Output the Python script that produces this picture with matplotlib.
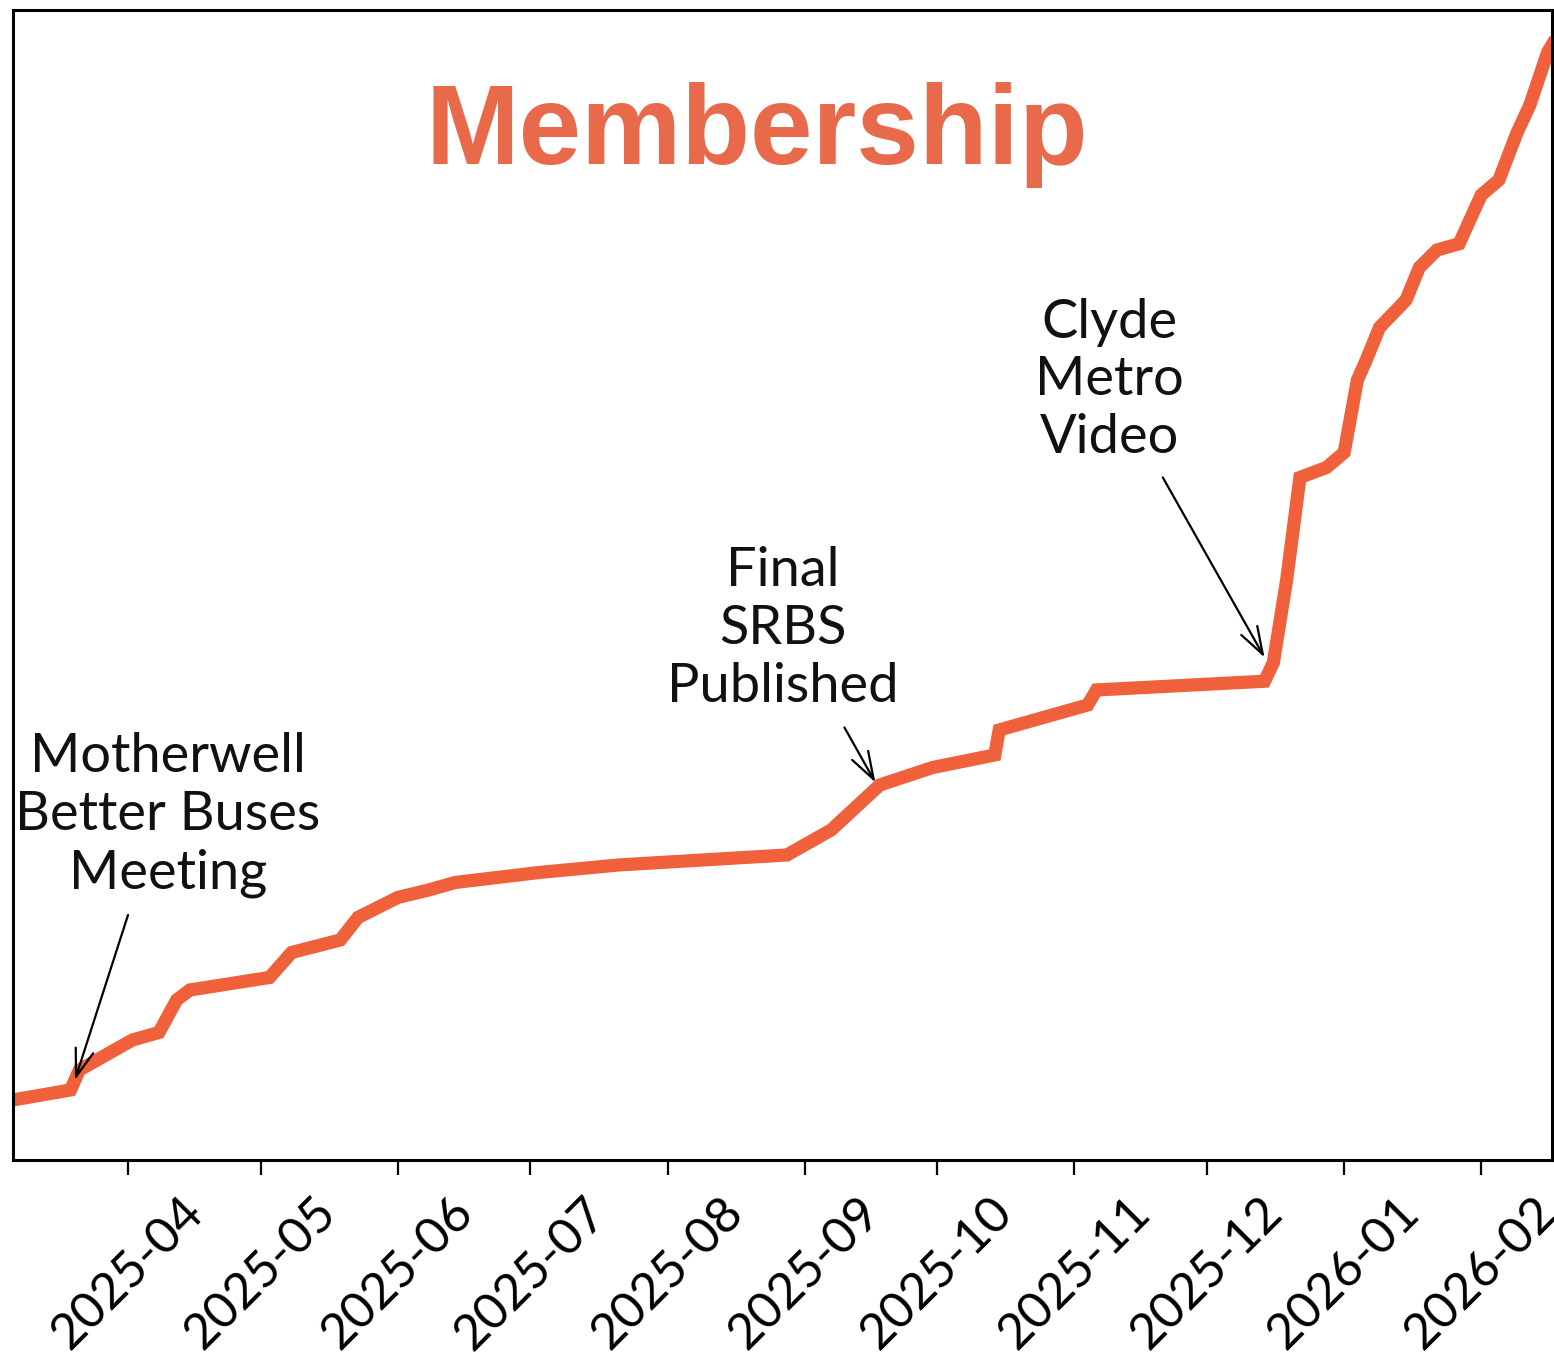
import matplotlib
matplotlib.use("Agg")
import matplotlib.pyplot as plt
import matplotlib.dates as mdates
import numpy as np
import pandas as pd

# Cumulative membership (approximate)
dates = ['2025-03-06', '2025-03-19', '2025-03-21', '2025-04-02', '2025-04-08',
         '2025-04-12', '2025-04-15', '2025-05-03', '2025-05-08', '2025-05-19',
         '2025-05-23', '2025-06-01', '2025-06-08', '2025-06-14', '2025-07-03',
         '2025-07-21', '2025-08-09', '2025-08-28', '2025-09-07', '2025-09-18',
         '2025-09-30', '2025-10-14', '2025-10-15', '2025-11-04', '2025-11-06',
         '2025-12-14', '2025-12-16', '2025-12-19', '2025-12-22', '2025-12-28',
         '2026-01-01', '2026-01-04', '2026-01-06', '2026-01-09', '2026-01-15',
         '2026-01-18', '2026-01-22', '2026-01-27', '2026-02-01', '2026-02-05',
         '2026-02-09', '2026-02-12', '2026-02-16', '2026-02-17']
members = [148, 156, 172, 196, 202, 228, 236, 246, 266, 276,
           294, 310, 316, 322, 330, 336, 340, 344, 364, 400,
           414, 424, 444, 464, 476, 483, 498, 564, 646, 654,
           666, 724, 740, 766, 788, 814, 828, 833, 872, 884,
           921, 944, 986, 992]

# Events marked on the chart
event_labels = ['Motherwell\nBetter Buses\nMeeting', 'Final\nSRBS\nPublished', 'Clyde\nMetro\nVideo']
event_dates = ['2025-03-20', '2025-09-17', '2025-12-14']
event_values = [164, 402, 502]
# where each arrow starts, and where the label sits
arrow_start_dates = ['2025-04-01', '2025-09-10', '2025-11-21']
arrow_start_values = [296, 446, 646]
label_dates = ['2025-04-10', '2025-08-27', '2025-11-09']
label_values = [376, 525, 724]

line_color = '#F0603A'
title_color = '#E96A4B'

x = pd.to_datetime(dates)

fig = plt.figure(figsize=(15.54, 13.69), dpi=100)
ax = fig.add_axes([0.0084, 0.1527, 0.9903, 0.8400])

ax.plot(x, members, color=line_color, linewidth=9.5, solid_joinstyle='miter')

ax.set_xlim(x[0], x[-1])
ax.set_ylim(100, 1020)

# month ticks, rotated labels
ax.xaxis.set_major_locator(mdates.MonthLocator())
ax.xaxis.set_major_formatter(mdates.DateFormatter('%Y-%m'))
ax.tick_params(axis='x', labelrotation=45, length=11, width=1.6, pad=10,
               labelsize=36)
for lab in ax.get_xticklabels():
    lab.set_fontfamily('Lato')
ax.set_yticks([])

for sp in ax.spines.values():
    sp.set_linewidth(2.2)
    sp.set_color('black')

# event annotations
for lbl, d, v, sd, sv, ld, lv in zip(event_labels, event_dates, event_values,
                                     arrow_start_dates, arrow_start_values,
                                     label_dates, label_values):
    ax.annotate('', xy=(pd.Timestamp(d), v), xytext=(pd.Timestamp(sd), sv),
                arrowprops=dict(arrowstyle='->,head_length=0.9,head_width=0.3',
                                color='black', lw=1.6, shrinkA=0, shrinkB=0,
                                mutation_scale=22))
    ax.text(pd.Timestamp(ld), lv, lbl, ha='center', va='center',
            multialignment='center', fontsize=39, family='Lato',
            linespacing=1.22, color='#111111')

ax.text(0.483, 0.866, 'Membership', transform=ax.transAxes, ha='center',
        va='baseline', fontsize=81, fontweight='bold', family='Liberation Sans',
        color=title_color)

fig.savefig('out.png', dpi=100)
